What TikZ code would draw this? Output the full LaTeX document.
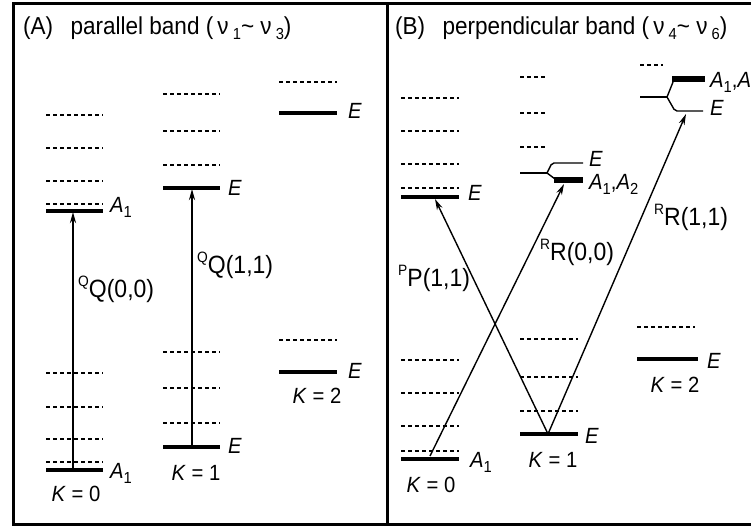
\documentclass[tikz,border=0pt]{standalone}
\usepackage{fontspec}
\setmainfont{Liberation Sans}[FakeStretch=0.92]
\usetikzlibrary{arrows.meta}
\newcommand{\levsub}[1]{\raisebox{-5pt}{\fontsize{16}{16}\selectfont #1}}
\newcommand{\levsup}[1]{\raisebox{11pt}{\fontsize{15}{15}\selectfont #1}}

\begin{document}
\begin{tikzpicture}[x=1pt, y=-1pt,
    every node/.style={font=\fontsize{22}{24}\selectfont, inner sep=0pt},
    frame/.style={line width=3pt},
    level/.style={line width=3.2pt},
    sublevel/.style={line width=2.6pt, dash pattern=on 4pt off 3pt},
    thinlevel/.style={line width=1.7pt, dash pattern=on 4pt off 3pt},
    splitline/.style={line width=1.4pt},
    bar/.style={line width=6pt},
    qtrans/.style={line width=2.2pt, -{Stealth[length=11pt,width=6pt]}},
    rtrans/.style={line width=1.4pt, -{Stealth[length=11pt,width=6pt]}},
    lab/.style={anchor=base west},
    kval/.style={anchor=base},
    trans/.style={anchor=base west, font=\fontsize{25}{27}\selectfont},
    title/.style={anchor=base west, font=\fontsize{24.5}{27}\selectfont}
  ]
  \useasboundingbox (0,0) rectangle (751,526);
  \fill[white] (0,0) rectangle (751,526);

  % frames
  \draw[frame] (751,4) -- (13,4) -- (13,524) -- (751,524);
  \draw[frame] (387,4) -- (387,524);

  \node[title] (titleA) at (23,35) {(A)\hspace{0.45em} parallel band (\,ν\,\levsub{1}\textasciitilde\ ν\,\levsub{3})};
  \node[title] (titleB) at (395,35) {(B)\hspace{0.45em} perpendicular band (\,ν\,\levsub{4}\textasciitilde\ ν\,\levsub{6})};

  % (A) K = 0
  \foreach \y in {115,148,181,204,439} \draw[sublevel] (46,\y) -- (103,\y);
  \foreach \y in {373,407,462} \draw[thinlevel] (46,\y) -- (103,\y);
  \draw[level] (46,211) -- (103,211);
  \draw[level] (46,470) -- (103,470);
  % (A) K = 1
  \foreach \y in {94,131,165,388,423} \draw[sublevel] (163,\y) -- (220,\y);
  \draw[thinlevel] (163,352) -- (220,352);
  \draw[level] (163,188) -- (220,188);
  \draw[level] (163,447) -- (220,447);
  % (A) K = 2
  \foreach \y in {82,340} \draw[thinlevel] (279,\y) -- (337,\y);
  \draw[level] (279,113) -- (337,113);
  \draw[level] (279,372) -- (337,372);

  \coordinate (q0lo) at (73,470);
  \coordinate (q0up) at (73,212);
  \coordinate (q1lo) at (192,447);
  \coordinate (q1up) at (192,189);
  \draw[qtrans] (q0lo) -- (q0up);
  \draw[qtrans] (q1lo) -- (q1up);

  \node[lab] (a0up) at (110,213) {\textit{A}\levsub{1}};
  \node[lab] (a0lo) at (110,478) {\textit{A}\levsub{1}};
  \node[lab] (e1up) at (228,196) {\textit{E}};
  \node[lab] (e1lo) at (228,453) {\textit{E}};
  \node[lab] (e2up) at (348,119) {\textit{E}};
  \node[lab] (e2lo) at (348,378) {\textit{E}};
  \node[kval] (ka0) at (76,501) {\textit{K} = 0};
  \node[kval] (ka1) at (196,480) {\textit{K} = 1};
  \node[kval] (ka2) at (317,403) {\textit{K} = 2};
  \node[trans] (qq00) at (78,297) {\levsup{Q}Q(0,0)};
  \node[trans] (qq11) at (197,273) {\levsup{Q}Q(1,1)};

  % (B) K = 0
  \foreach \y in {98,164,360,393,426} \draw[sublevel] (401,\y) -- (459,\y);
  \foreach \y in {131,188,451} \draw[thinlevel] (401,\y) -- (459,\y);
  \draw[level] (401,197) -- (459,197);
  \draw[level] (401,459) -- (459,459);
  % (B) K = 1
  \foreach \y in {77,113,147} \draw[thinlevel] (520,\y) -- (545,\y);
  \draw[splitline] (520,173) -- (547,173);
  \draw[splitline, rounded corners=2pt] (547,173) -- (552,163) -- (583,163);
  \draw[splitline] (547,173) -- (555,179);
  \draw[bar] (554,180) -- (583,180);
  \draw[sublevel] (520,377) -- (578,377);
  \foreach \y in {339,411} \draw[thinlevel] (520,\y) -- (578,\y);
  \draw[level] (520,434) -- (578,434);
  % (B) K = 2
  \draw[sublevel] (640,65) -- (663,65);
  \draw[splitline] (640,97) -- (667,97);
  \draw[splitline] (667,97) -- (673,82);
  \draw[bar] (672,79) -- (705,79);
  \draw[splitline, rounded corners=2pt] (667,97) -- (675,111) -- (703,111);
  \draw[sublevel] (637,327) -- (695,327);
  \draw[level] (637,359) -- (698,359);

  \coordinate (b0lo) at (430,456);
  \coordinate (b1lo) at (548,434);
  \coordinate (b0up) at (435,199);
  \coordinate (b1up) at (564,184);
  \coordinate (b2up) at (686,114);
  \draw[rtrans] (b1lo) -- (b0up);
  \draw[rtrans] (b0lo) -- (b1up);
  \draw[rtrans] (b1lo) -- (b2up);

  \node[lab] (eb0up) at (468,201) {\textit{E}};
  \node[lab] (ab0lo) at (470,467) {\textit{A}\levsub{1}};
  \node[lab] (eb1up) at (589,167) {\textit{E}};
  \node[lab] (ab1up) at (589,190) {\textit{A}\levsub{1},\textit{A}\levsub{2}};
  \node[lab] (eb1lo) at (585,443) {\textit{E}};
  \node[lab] (eb2up) at (710,116) {\textit{E}};
  \begin{scope}
    \clip (0,0) rectangle (751,526);
    \node[lab] (ab2up) at (710,88) {\textit{A}\levsub{1},\textit{A}\levsub{2}};
  \end{scope}
  \node[lab] (eb2lo) at (707,368) {\textit{E}};
  \node[kval] (kb0) at (431,492) {\textit{K} = 0};
  \node[kval] (kb1) at (553,467) {\textit{K} = 1};
  \node[kval] (kb2) at (675,392) {\textit{K} = 2};
  \node[trans] (pp11) at (398,287) {\levsup{P}P(1,1)};
  \node[trans] (rr00) at (540,261) {\levsup{R}R(0,0)};
  \node[trans] (rr11) at (654,226) {\levsup{R}R(1,1)};
\end{tikzpicture}
\end{document}
